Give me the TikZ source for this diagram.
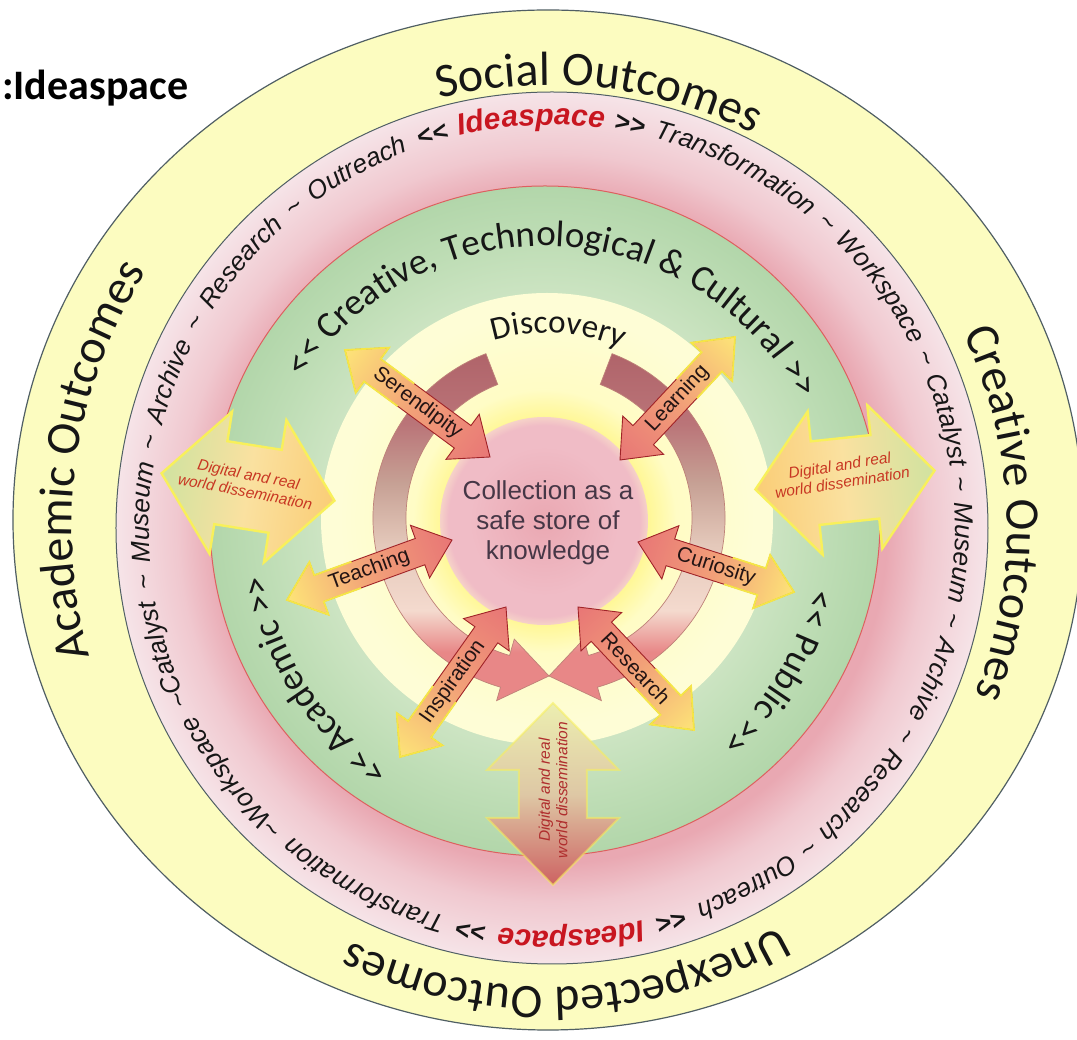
\documentclass[tikz,border=0pt]{standalone}
\usepackage{fontspec}
\usetikzlibrary{decorations.text}
\newfontfamily\fCal{Carlito}
\newfontfamily\fAri{Liberation Sans}

\definecolor{outerY}{RGB}{252,252,192}
\definecolor{outerLine}{RGB}{80,95,100}
\definecolor{greenLine}{RGB}{222,95,95}
\definecolor{pkA}{RGB}{233,168,178}
\definecolor{pkB}{RGB}{240,200,207}
\definecolor{pkC}{RGB}{246,228,232}
\definecolor{grA}{RGB}{204,228,194}
\definecolor{grB}{RGB}{190,221,181}
\definecolor{grC}{RGB}{178,214,170}
\definecolor{plA}{RGB}{255,250,180}
\definecolor{plB}{RGB}{255,252,198}
\definecolor{plC}{RGB}{254,253,214}
\definecolor{glA}{RGB}{255,247,150}
\definecolor{coA}{RGB}{234,168,178}
\definecolor{coB}{RGB}{240,188,198}
\definecolor{coC}{RGB}{246,210,200}
\definecolor{caHead}{RGB}{232,135,135}
\definecolor{caPeach}{RGB}{244,218,206}
\definecolor{caPeachB}{RGB}{228,200,186}
\definecolor{caTan}{RGB}{198,160,148}
\definecolor{caMauve}{RGB}{186,116,120}
\definecolor{caMauveD}{RGB}{176,100,106}
\definecolor{caLine}{RGB}{190,130,120}
\definecolor{saY}{RGB}{253,228,120}
\definecolor{saO}{RGB}{242,160,120}
\definecolor{saR}{RGB}{232,118,118}
\definecolor{saLine}{RGB}{160,35,40}
\definecolor{saYLine}{RGB}{245,230,70}
\definecolor{lblText}{RGB}{35,20,20}
\definecolor{dgG}{RGB}{208,226,160}
\definecolor{dgM}{RGB}{250,225,160}
\definecolor{dgO}{RGB}{250,205,118}
\definecolor{dgLine}{RGB}{248,240,90}
\definecolor{dbTop}{RGB}{236,238,176}
\definecolor{dbMid}{RGB}{222,200,165}
\definecolor{dbBot}{RGB}{205,98,98}
\definecolor{dissText}{RGB}{200,55,35}
\definecolor{dissTextB}{RGB}{175,45,45}
\definecolor{ideared}{RGB}{200,22,32}
\definecolor{coreText}{RGB}{70,55,70}
\definecolor{inkText}{RGB}{22,22,22}

\pgfdeclareradialshading{pinkring}{\pgfpoint{0bp}{0bp}}{color(0bp)=(pkA); color(19.2bp)=(pkA); color(21.5bp)=(pkB); color(25bp)=(pkC); color(50bp)=(pkC)}
\pgfdeclareradialshading{greenring}{\pgfpoint{0bp}{0bp}}{color(0bp)=(grA); color(16.9bp)=(grA); color(21bp)=(grB); color(25bp)=(grC); color(50bp)=(grC)}
\pgfdeclareradialshading{paledisc}{\pgfpoint{0bp}{0bp}}{color(0bp)=(plA); color(15bp)=(plB); color(23bp)=(plC); color(25bp)=(plC); color(50bp)=(plC)}
\pgfdeclareradialshading{glow}{\pgfpoint{0bp}{0bp}}{color(0bp)=(glA); color(19.5bp)=(glA); color(25bp)=(plB); color(50bp)=(plB)}
\pgfdeclareradialshading{core}{\pgfpoint{0bp}{0bp}}{color(0bp)=(coA); color(18bp)=(coB); color(23bp)=(coB); color(25bp)=(coC); color(50bp)=(coC)}
\pgfdeclareverticalshading{circarr}{100bp}{color(0bp)=(caHead); color(25bp)=(caHead); color(32bp)=(caHead); color(38bp)=(caPeach); color(47.5bp)=(caPeachB); color(56.5bp)=(caTan); color(65bp)=(caMauve); color(75bp)=(caMauveD); color(100bp)=(caMauveD)}

\newcommand\fOut{\fCal\fontsize{48}{48}\selectfont\color{inkText}}
\newcommand\fRing{\fAri\itshape\fontsize{26}{26}\selectfont\color{inkText}}
\newcommand\fRingB{\fAri\bfseries\fontsize{26}{26}\selectfont\color{inkText}}
\newcommand\fIdea{\fAri\bfseries\itshape\fontsize{30}{30}\selectfont\color{ideared}}
\newcommand\fGreen{\fCal\fontsize{37}{37}\selectfont\color{inkText}}
\newcommand\fDisc{\fCal\fontsize{33}{33}\selectfont\color{inkText}}

% small double arrow: name, outer x,y, inner x,y, label, extra label rotation
\newcommand\sArrow[7]{%
  \pgfmathsetmacro\arrDX{#4-#2}%
  \pgfmathsetmacro\arrDY{#5-#3}%
  \pgfmathsetmacro\arrLen{veclen(\arrDX,\arrDY)}%
  \pgfmathsetmacro\arrAng{atan2(\arrDY,\arrDX)}%
  \pgfmathsetmacro\arrLh{\arrLen-34}%
  \pgfmathsetmacro\arrLy{\arrLen*0.42}%
  \begin{scope}[transform canvas={shift={(#2,#3)},rotate=\arrAng}]
    \path[left color=saY, right color=saR, middle color=saO, draw=saLine, line width=0.9]
      (0,0) -- (34,28) -- (34,14) -- (\arrLh,14) -- (\arrLh,28) -- (\arrLen,0)
      -- (\arrLh,-28) -- (\arrLh,-14) -- (34,-14) -- (34,-28) -- cycle;
    \begin{scope}
      \clip (-6,-36) rectangle (\arrLy,36);
      \draw[saYLine, line width=1.8]
      (0,0) -- (34,28) -- (34,14) -- (\arrLh,14) -- (\arrLh,28) -- (\arrLen,0)
      -- (\arrLh,-28) -- (\arrLh,-14) -- (34,-14) -- (34,-28) -- cycle;
    \end{scope}
  \end{scope}
  \pgfmathsetmacro\arrMX{(#2+#4)/2}%
  \pgfmathsetmacro\arrMY{(#3+#5)/2}%
  \node[lbl, rotate=\arrAng+#7] (#1) at (\arrMX,\arrMY) {#6};
}

% big double arrow: shaft hw, cx, cy, angle, half length, head length, head hw, style
\newcommand\bArrow[8]{%
  \pgfmathsetmacro\baB{#5-#6}%
  \begin{scope}[transform canvas={shift={(#2,#3)},rotate=#4}]
    \path[#8] (-#5,0) -- (-\baB,#7) -- (-\baB,#1) -- (\baB,#1) -- (\baB,#7) -- (#5,0)
      -- (\baB,-#7) -- (\baB,-#1) -- (-\baB,-#1) -- (-\baB,-#7) -- cycle;
  \end{scope}}

\begin{document}
\begin{tikzpicture}[x=1pt,y=1pt,
  lbl/.style={font=\fAri\fontsize{21}{21}\selectfont, text=lblText, inner sep=0pt},
  dissl/.style={font=\fAri\itshape\fontsize{15.5}{17.5}\selectfont, text=dissText, align=center, inner sep=0pt},
  ringtext/.style={decorate},
]
\fill[white] (-545,521) rectangle (532,-519);
\useasboundingbox (-545,521) rectangle (532,-519);

% rings
\fill[outerY, draw=outerLine, line width=1.2] (3,1) ellipse [x radius=535, y radius=510];
\shade[shading=pinkring, draw=outerLine, line width=1] (7,-7) circle (436);
\shade[shading=greenring, draw=greenLine, line width=1] (0,0) circle (335);
\shade[shading=paledisc] (2,2) circle (226);
\shade[shading=glow] (0,0) circle (132);

% circular arrows
\shade[shading=circarr, draw=caLine, line width=0.7]
  ([shift={(4,3)}]111:176) arc[start angle=111, end angle=254, radius=176]
  -- ([shift={(4,3)}]254:190) -- ([shift={(4,3)}]270:158) -- ([shift={(4,3)}]254:126)
  -- ([shift={(4,3)}]254:143) arc[start angle=254, end angle=111, radius=143] -- cycle;
\shade[shading=circarr, draw=caLine, line width=0.7]
  ([shift={(4,3)}]69:176) arc[start angle=69, end angle=-74, radius=176]
  -- ([shift={(4,3)}]-74:190) -- ([shift={(4,3)}]-90:158) -- ([shift={(4,3)}]-74:126)
  -- ([shift={(4,3)}]-74:143) arc[start angle=-74, end angle=69, radius=143] -- cycle;

% core
\shade[shading=core] (-1,0) circle (104);

% dissemination arrows
\bArrow{42}{-297}{34}{-9}{87.5}{60}{72}{left color=dgG, right color=dgO, middle color=dgM, draw=dgLine, line width=2.4}
\bArrow{42}{300}{41}{6}{90}{60}{72}{left color=dgO, right color=dgG, middle color=dgM, draw=dgLine, line width=2.4}
\bArrow{34}{8}{-273}{-90}{91}{67}{66}{left color=dbTop, right color=dbBot, middle color=dbMid, draw=dgLine, draw opacity=0.55, line width=2}

% small arrows
\sArrow{seren}{-200}{171}{-55}{64}{Serendipity}{0}
\sArrow{learn}{190}{184}{75}{61}{Learning}{180}
\sArrow{teach}{-258}{-79}{-93}{-19}{Teaching}{0}
\sArrow{curio}{249}{-71}{93}{-21}{Curiosity}{180}
\sArrow{inspi}{-145}{-236}{-39}{-86}{Inspiration}{0}
\sArrow{resea}{149}{-209}{33}{-86}{Research}{180}

% texts
\node[font=\fAri\fontsize{26}{30}\selectfont, text=coreText, align=center, inner sep=0pt] (core) at (3,-2) {Collection as a\\safe store of\\knowledge};
\node[dissl, rotate=-11] (dissL) at (-298,38) {Digital and real\\world dissemination};
\node[dissl, rotate=9] (dissR) at (296,47) {Digital and real\\world dissemination};
\node[dissl, rotate=90, text=dissTextB] (dissB) at (8,-269) {Digital and real\\world dissemination};
\node[font=\fCal\bfseries\fontsize{42}{42}\selectfont, anchor=base west, inner sep=0pt] (title) at (-543,421) {:Ideaspace};

% outer ring labels
\path[ringtext, decoration={text along path, text align=center, text={|\fOut|Social Outcomes}}]
  ([shift={(5,-7)}]143.6:443) arc[start angle=143.6, end angle=23.6, radius=443];
\path[ringtext, decoration={text along path, text align=center, text={|\fOut|Academic Outcomes}}]
  ([shift={(5,-7)}]231.6:478) arc[start angle=231.6, end angle=111.6, radius=478];
\path[ringtext, decoration={text along path, text align=center, text={|\fOut|Creative Outcomes}}]
  ([shift={(5,-7)}]61.9:457) arc[start angle=61.9, end angle=-58.1, radius=457];
\path[ringtext, decoration={text along path, text align=center, text={|\fOut|Unexpected Outcomes}}]
  ([shift={(5,-7)}]-27.9:459) arc[start angle=-27.9, end angle=-147.9, radius=459];

% pink ring text
\path[ringtext, decoration={text along path, text align={fit to path stretching spaces},
  text={|\fRingB|<< |\fIdea|Ideaspace|\fRingB| >> |\fRing|Transformation {\textasciitilde} Workspace {\textasciitilde} Catalyst {\textasciitilde} Museum {\textasciitilde} Archive {\textasciitilde} Research {\textasciitilde} Outreach}}]
  ([shift={(7,-7)}]109:403) arc[start angle=109, end angle=-69, radius=403];
\path[ringtext, decoration={text along path, text align={fit to path stretching spaces},
  text={|\fRingB|<< |\fIdea|Ideaspace|\fRingB| >> |\fRing|Transformation {\textasciitilde}Workspace {\textasciitilde}Catalyst {\textasciitilde} Museum {\textasciitilde} Archive {\textasciitilde} Research {\textasciitilde} Outreach}}]
  ([shift={(7,-7)}]289:403) arc[start angle=289, end angle=111, radius=403];

% green ring labels
\path[ringtext, decoration={text along path, text align=center, text={|\fGreen|<< Creative, Technological {\&} Cultural >>}}]
  ([shift={(0,-12)}]157.5:287) arc[start angle=157.5, end angle=17.5, radius=287];
\path[ringtext, decoration={text along path, text align=center, text={|\fGreen|<< Academic >>}}]
  ([shift={(0,-12)}]272.6:282) arc[start angle=272.6, end angle=152.6, radius=282];
\path[ringtext, decoration={text along path, text align=center, text={|\fGreen|<< Public >>}}]
  ([shift={(0,-12)}]29.2:272) arc[start angle=29.2, end angle=-90.8, radius=272];
\path[ringtext, decoration={text along path, text align=center, text={|\fDisc|Discovery}}]
  ([shift={(2,2)}]146.6:186) arc[start angle=146.6, end angle=26.6, radius=186];
\end{tikzpicture}
\end{document}
